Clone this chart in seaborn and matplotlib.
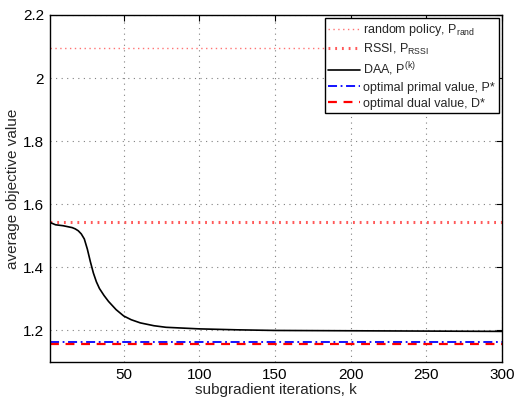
import numpy as np
import pandas as pd
import seaborn as sns
import matplotlib.pyplot as plt

# DAA curve
k_vals = [1, 5, 10, 16, 18, 20, 22, 24, 26, 28, 30, 32, 34, 37, 40, 45, 50, 55, 61, 70,
          78, 100, 125, 150, 200, 250, 300]
daa_vals = [1.543, 1.535, 1.532, 1.526, 1.522, 1.516, 1.506, 1.49, 1.458, 1.418, 1.382,
            1.354, 1.333, 1.311, 1.292, 1.266, 1.246, 1.234, 1.224, 1.215,
            1.21, 1.205, 1.202, 1.200, 1.199, 1.198, 1.197]

p_rand = 2.095
p_rssi = 1.545
p_star = 1.162
d_star = 1.156

xticks = [50, 100, 150, 200, 250, 300]
yticks = [1.2, 1.4, 1.6, 1.8, 2.0, 2.2]
ytick_labels = ["1.2", "1.4", "1.6", "1.8", "2", "2.2"]

sns.set_style("white")
plt.rcParams['font.family'] = ['Liberation Sans', 'DejaVu Sans']
plt.rcParams['mathtext.default'] = 'regular'

fig = plt.figure(figsize=(5.14, 4.03), dpi=100)
ax = fig.add_axes([49.5 / 514, 1 - 362 / 403, (502 - 49.5) / 514, (362 - 15) / 403])

df = pd.DataFrame({"k": k_vals, "val": daa_vals})
ax.axhline(p_rand, color=(1, 0.45, 0.45), ls=(0, (1, 2.5)), lw=1.0, label=r"random policy, P$_{rand}$")
ax.axhline(p_rssi, color=(1, 0.35, 0.35), ls=(0, (0.6, 1.6)), lw=2.2, label=r"RSSI, P$_{RSSI}$")
sns.lineplot(data=df, x="k", y="val", ax=ax, color="black", lw=1.2, label=r"DAA, P$^{(k)}$")
ax.axhline(p_star, color="blue", ls=(0, (5, 2, 1, 2)), lw=1.3, label="optimal primal value, P*")
ax.axhline(d_star, color="red", ls=(0, (4, 3)), lw=1.6, label="optimal dual value, D*")

ax.set_xlim(1, 300)
ax.set_ylim(1.1, 2.2)
ax.set_xticks(xticks)
ax.set_yticks(yticks)
ax.set_yticklabels(ytick_labels)
ax.set_axisbelow(True)
ax.grid(True, which="major", color="#808080", linestyle=(0, (1, 4)), linewidth=0.8)
ax.tick_params(direction="in", length=4, labelsize=11, colors="black", pad=4)
ax.tick_params(top=True, right=True)
for s in ax.spines.values():
    s.set_color("black")
    s.set_linewidth(1.0)
ax.set_xlabel("subgradient iterations, k", fontsize=11, labelpad=1)
ax.set_ylabel("average objective value", fontsize=11, labelpad=2)

leg = ax.legend(loc="upper right", fontsize=9, frameon=True, fancybox=False,
                edgecolor="black", handlelength=2.5, handletextpad=0.3,
                borderpad=0.3, labelspacing=0.3, borderaxespad=0.25)
leg.get_frame().set_linewidth(1.0)
leg.get_frame().set_alpha(1)

fig.savefig("out.png", dpi=100)
